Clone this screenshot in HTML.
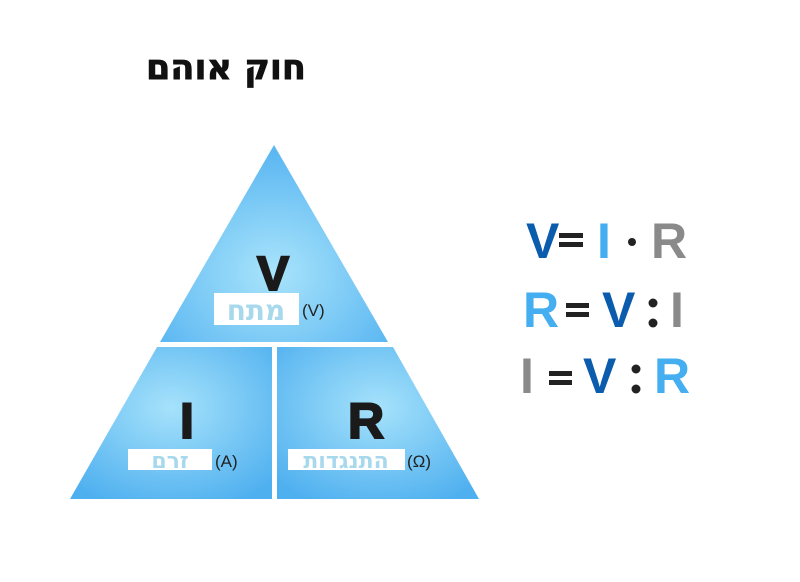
<!DOCTYPE html>
<html><head><meta charset="utf-8">
<style>
html,body{margin:0;padding:0;background:#fff;width:800px;height:582px;overflow:hidden}
svg{display:block}
.b{font-family:"Liberation Sans","DejaVu Sans",sans-serif;font-weight:bold}
.h{font-family:"DejaVu Sans","Liberation Sans",sans-serif;font-weight:bold}
</style></head><body>
<svg width="800" height="582" viewBox="0 0 800 582" xmlns="http://www.w3.org/2000/svg">
<defs>
<radialGradient id="g1" cx="0.5" cy="0.65" r="0.6">
<stop offset="0" stop-color="#a9e4fb"/><stop offset="1" stop-color="#5db8f2"/></radialGradient>
<radialGradient id="g2" cx="0.5" cy="0.4" r="0.7">
<stop offset="0" stop-color="#a6e2fb"/><stop offset="1" stop-color="#4fb0ef"/></radialGradient>
</defs>
<text x="226" y="79" text-anchor="middle" font-size="35" class="h" fill="#111" direction="rtl" stroke="#111" stroke-width="0.8">חוק אוהם</text>
<polygon points="274,145 388,342 160,342" fill="url(#g1)"/>
<polygon points="157,347 272,347 272,499 70,499" fill="url(#g2)"/>
<polygon points="277,347 393,347 479,499 277,499" fill="url(#g2)"/>
<text x="273" y="290" text-anchor="middle" font-size="48" class="b" fill="#1a1a1a" stroke="#1a1a1a" stroke-width="2">V</text>
<rect x="214" y="293" width="85" height="32" fill="#fff"/>
<text x="256" y="320" text-anchor="middle" font-size="28" class="h" fill="#a8d8ec" direction="rtl">מתח</text>
<text x="302" y="316" font-size="17" class="b" fill="#222" style="font-weight:normal">(V)</text>
<text x="187" y="438" text-anchor="middle" font-size="50" class="b" fill="#1a1a1a" stroke="#1a1a1a" stroke-width="2">I</text>
<rect x="128" y="449" width="84" height="21" fill="#fff"/>
<text x="170" y="468" text-anchor="middle" font-size="22" class="h" fill="#a8d8ec" direction="rtl">זרם</text>
<text x="215" y="467" font-size="17" class="b" fill="#222" style="font-weight:normal">(A)</text>
<text x="366" y="438" text-anchor="middle" font-size="50" class="b" fill="#1a1a1a" stroke="#1a1a1a" stroke-width="2">R</text>
<rect x="288" y="449" width="117" height="21" fill="#fff"/>
<text x="346" y="468" text-anchor="middle" font-size="22" class="h" fill="#a8d8ec" direction="rtl">התנגדות</text>
<text x="407" y="467" font-size="17" class="b" fill="#222" style="font-weight:normal">(Ω)</text>
<g class="b" font-size="50">
<text x="526" y="258" fill="#0b5cad">V</text>
<rect x="559" y="233" width="24" height="5" fill="#222"/><rect x="559" y="242" width="24" height="5" fill="#222"/>
<text x="597" y="258" fill="#45aef0">I</text>
<circle cx="632" cy="242" r="4" fill="#222"/>
<text x="651" y="258" fill="#8a8a8a">R</text>
</g>
<g class="b" font-size="50">
<text x="523" y="327" fill="#45aef0">R</text>
<rect x="566" y="303" width="23" height="5" fill="#222"/><rect x="566" y="312" width="23" height="5" fill="#222"/>
<text x="602" y="327" fill="#0b5cad">V</text>
<circle cx="653" cy="303" r="4.5" fill="#222"/><circle cx="653" cy="323" r="4.5" fill="#222"/>
<text x="670" y="327" fill="#8a8a8a">I</text>
</g>
<g class="b" font-size="50">
<text x="520" y="393" fill="#8a8a8a">I</text>
<rect x="549" y="371" width="23" height="5" fill="#222"/><rect x="549" y="380" width="23" height="5" fill="#222"/>
<text x="583" y="393" fill="#0b5cad">V</text>
<circle cx="636" cy="369" r="4.5" fill="#222"/><circle cx="636" cy="389" r="4.5" fill="#222"/>
<text x="654" y="393" fill="#45aef0">R</text>
</g>
</svg>
</body></html>
